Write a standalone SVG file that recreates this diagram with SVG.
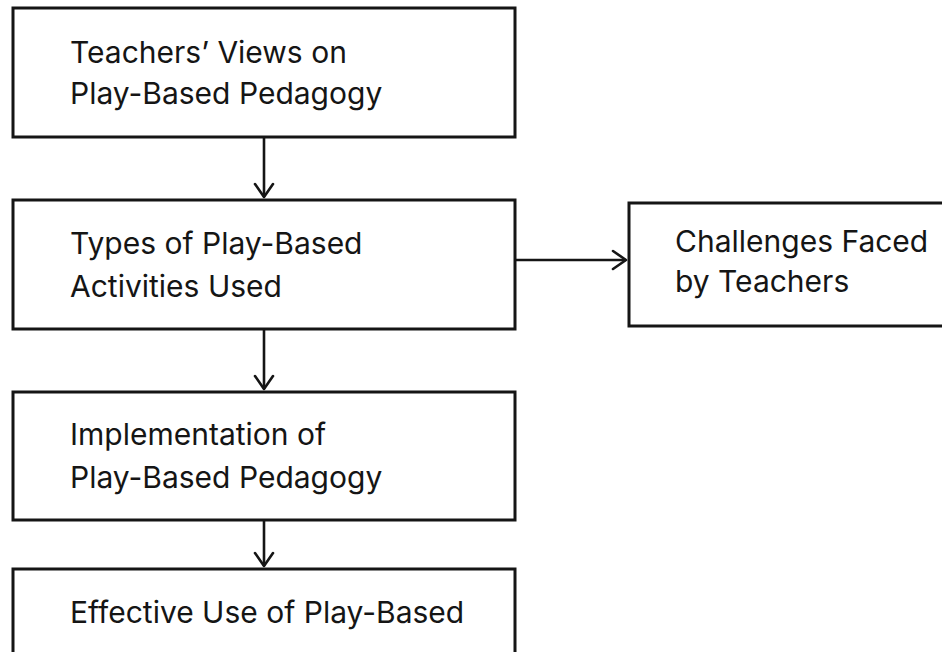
<svg xmlns="http://www.w3.org/2000/svg" width="942" height="652" viewBox="0 0 942 652">
  <style>
    .box { fill: #ffffff; stroke: #151515; stroke-width: 3; }
    .lbl { font-family: Inter, "Liberation Sans", sans-serif; font-size: 30px; fill: #151515; }
    .edge { fill: none; stroke: #151515; stroke-width: 2.6; }
    .head { fill: none; stroke: #151515; stroke-width: 2.6; stroke-linecap: round; stroke-linejoin: round; }
  </style>
  <rect width="942" height="652" fill="#ffffff"/>

  <g id="connectors">
    <line class="edge" x1="264" y1="137" x2="264" y2="197"/>
    <polyline class="head" points="255,184 264,197 273,184"/>
    <line class="edge" x1="264" y1="329" x2="264" y2="389"/>
    <polyline class="head" points="255,376 264,389 273,376"/>
    <line class="edge" x1="264" y1="520" x2="264" y2="566"/>
    <polyline class="head" points="255,553 264,566 273,553"/>
    <line class="edge" x1="515" y1="260" x2="626" y2="260"/>
    <polyline class="head" points="613,251 626,260 613,269"/>
  </g>

  <g id="views">
    <rect class="box" x="13" y="8" width="502" height="129"/>
    <text class="lbl" x="70" y="63">Teachers’ Views on</text>
    <text class="lbl" x="70" y="104">Play-Based Pedagogy</text>
  </g>

  <g id="types">
    <rect class="box" x="13" y="200" width="502" height="129"/>
    <text class="lbl" x="70" y="254">Types of Play-Based</text>
    <text class="lbl" x="70" y="297">Activities Used</text>
  </g>

  <g id="challenges">
    <rect class="box" x="629" y="203" width="330" height="123"/>
    <text class="lbl" x="675" y="252">Challenges Faced</text>
    <text class="lbl" x="675" y="292">by Teachers</text>
  </g>

  <g id="implementation">
    <rect class="box" x="13" y="392" width="502" height="128"/>
    <text class="lbl" x="70" y="445">Implementation of</text>
    <text class="lbl" x="70" y="488">Play-Based Pedagogy</text>
  </g>

  <g id="effective">
    <rect class="box" x="13" y="569" width="502" height="100"/>
    <text class="lbl" x="70" y="623">Effective Use of Play-Based</text>
  </g>
</svg>
